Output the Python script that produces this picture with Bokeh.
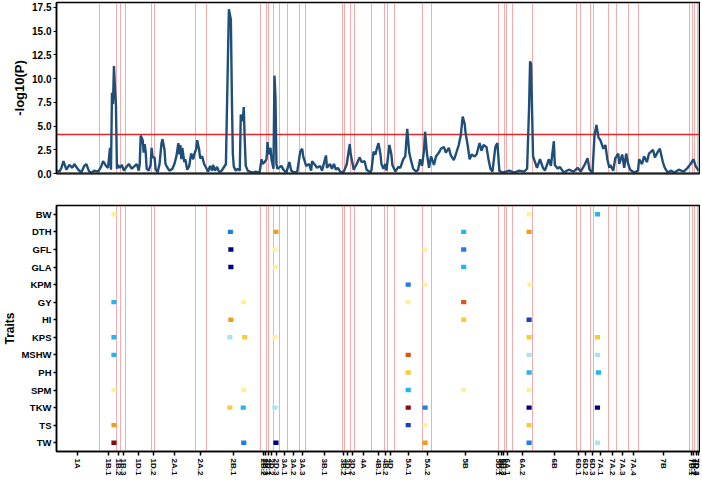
from bokeh.plotting import figure
from bokeh.layouts import column
from bokeh.models import (Range1d, FactorRange, FixedTicker, NumeralTickFormatter,
                          LinearColorMapper, ColumnDataSource)
from bokeh.transform import transform
from bokeh.embed import file_html
from bokeh.resources import INLINE

# ---------------- data ----------------
traits = ["BW", "DTH", "GFL", "GLA", "KPM", "GY", "HI", "KPS", "MSHW", "PH",
          "SPM", "TKW", "TS", "TW"]

seg_labels = ["1A", "1B.1", "1B.2", "1B.3", "1D.1", "1D.2", "2A.1", "2A.2", "2B.1",
              "2B.2", "2B.3", "2D.1", "2D.2", "2D.3", "3A.1", "3A.2", "3A.3", "3B.1",
              "3B.2", "3D.1", "3D.2", "4A", "4B.1", "4B.2", "4D", "5A.1", "5A.2", "5B",
              "5D.1", "5D.2", "5D.3", "6A.1", "6A.2", "6B", "6D.1", "6D.2", "6D.3",
              "7A.1", "7A.2", "7A.3", "7A.4", "7B", "7D.1", "7D.2", "7D.3", "7D.4"]
seg_centers = [21.5, 52, 63, 67.5, 83, 97.5, 119.5, 145.5, 178.5,
               209, 211, 213.5, 217, 222, 230, 239, 248, 270,
               290, 294, 298.5, 310, 324.5, 332.5, 337.5, 355, 374, 412.5,
               446.5, 449, 451.5, 455.5, 470, 502.5, 527, 534, 540.5,
               549.5, 561, 571, 582, 613, 640.5, 643, 645.5, 648]

boundaries = [43, 61, 65, 70, 96, 99, 140, 151, 206, 212, 213.5, 219, 225, 233, 245,
              251, 289, 291, 297, 301, 318, 331, 334, 341, 369, 379, 446, 452, 454,
              460, 480, 525, 529, 539, 542, 557, 565, 577, 587, 639, 642, 644, 647]

pos = [0, 3, 5, 7, 10, 13, 16, 18, 22, 25, 28, 30, 33, 36, 38, 42, 45, 47, 50, 52,
       54, 55, 56, 57, 58, 59, 60, 61, 62, 64, 66, 68, 70, 73, 76, 79, 81, 83, 84, 85,
       87, 88, 89, 90, 91, 93, 95, 96, 97, 99, 100, 102, 104, 106, 107, 109, 110, 112, 114, 117,
       119, 121, 123, 124, 125, 126, 127, 129, 130, 132, 134, 135, 136, 138, 139, 141, 142, 144, 145, 147,
       149, 151, 153, 155, 157, 158, 160, 162, 164, 166, 168, 171, 173, 174, 176, 177, 178, 179, 181, 183,
       185, 186, 188, 189, 190, 191, 193, 195, 198, 201, 205, 207, 208, 210, 212, 213, 214, 216, 217, 219,
       220, 221, 222, 223, 227, 229, 232, 235, 237, 240, 243, 246, 248, 249, 252, 255, 257, 258, 261, 263,
       266, 268, 272, 273, 276, 278, 280, 282, 284, 287, 290, 293, 296, 297, 300, 303, 306, 308, 311, 313,
       317, 318, 320, 322, 323, 325, 327, 328, 330, 332, 333, 336, 338, 339, 342, 345, 347, 350, 352, 354,
       356, 358, 360, 363, 365, 367, 369, 371, 372, 374, 376, 378, 381, 383, 386, 388, 391, 393, 396, 398,
       401, 403, 406, 408, 410, 412, 413, 415, 417, 419, 422, 424, 427, 429, 431, 434, 436, 438, 440, 443,
       445, 447, 450, 457, 462, 467, 472, 475, 477, 478, 479, 481, 483, 485, 488, 491, 493, 497, 499, 502,
       503, 506, 508, 512, 517, 522, 526, 529, 533, 536, 538, 541, 543, 545, 547, 549, 552, 554, 556, 558,
       559, 562, 564, 567, 568, 571, 573, 575, 577, 579, 583, 587, 588, 591, 593, 596, 598, 602, 604, 607,
       609, 612, 614, 617, 620, 624, 628, 633, 637, 640, 643, 645, 648]
logp = [0.3, 0.2, 0.6, 1.3, 0.4, 0.9, 0.6, 1.0, 0.4, 0.1, 0.8, 1.0, 0.2, 0.1, 0.3, 0.2, 0.7, 1.3, 0.8, 0.6,
        2.7, 0.4, 8.5, 7.3, 11.3, 9.0, 7.2, 0.5, 0.9, 0.6, 0.9, 0.3, 0.6, 1.0, 0.5, 0.8, 1.0, 0.3, 1.0, 4.0,
        3.5, 2.2, 3.1, 2.3, 0.5, 0.3, 0.9, 2.7, 1.7, 1.7, 0.5, 0.1, 1.0, 3.2, 3.6, 2.5, 1.0, 0.6, 0.3, 0.5,
        1.0, 1.8, 3.2, 2.0, 3.0, 1.5, 2.7, 1.2, 1.5, 0.4, 0.8, 1.5, 2.1, 1.5, 2.0, 2.6, 3.5, 2.5, 1.6, 1.8,
        1.0, 0.6, 0.2, 0.8, 0.3, 0.9, 0.3, 0.7, 0.2, 0.2, 0.5, 1.0, 12.0, 17.3, 16.2, 8.0, 2.0, 0.7, 0.3, 0.5,
        0.3, 6.2, 5.5, 7.0, 3.5, 0.8, 0.3, 0.2, 0.1, 0.2, 0.1, 1.5, 1.0, 1.2, 1.5, 3.3, 2.0, 2.7, 1.5, 0.5,
        10.3, 8.0, 1.0, 0.5, 0.8, 0.4, 0.1, 1.2, 0.3, 0.1, 0.2, 2.3, 2.6, 1.8, 0.8, 1.0, 0.3, 1.3, 0.9, 0.6,
        0.8, 0.3, 1.9, 0.6, 1.0, 0.5, 1.0, 0.4, 0.6, 0.1, 0.2, 1.0, 3.1, 2.0, 0.4, 1.0, 1.7, 1.2, 1.3, 0.4,
        0.1, 0.4, 2.3, 2.0, 2.5, 3.2, 2.0, 1.0, 0.5, 1.0, 0.3, 3.0, 2.0, 0.9, 0.2, 0.7, 0.6, 1.5, 1.8, 4.7,
        2.2, 1.3, 0.5, 0.2, 0.4, 1.5, 0.8, 2.5, 4.4, 2.0, 0.6, 1.8, 0.9, 1.8, 2.2, 2.6, 2.8, 2.2, 2.7, 1.9,
        1.4, 2.0, 3.0, 4.0, 6.0, 5.2, 4.2, 3.0, 1.5, 2.0, 1.8, 2.0, 3.2, 2.4, 3.0, 2.8, 1.5, 0.5, 0.2, 2.8,
        3.2, 0.3, 0.1, 0.3, 0.1, 0.3, 0.2, 0.5, 7.0, 11.8, 11.5, 1.8, 1.2, 0.6, 1.5, 0.6, 0.3, 1.5, 0.8, 3.4,
        0.9, 0.5, 0.7, 0.1, 0.4, 0.2, 0.6, 0.2, 0.9, 1.6, 0.4, 0.1, 4.0, 5.1, 3.8, 3.5, 2.6, 3.0, 1.5, 0.6,
        0.9, 0.3, 1.6, 2.1, 1.0, 2.0, 0.6, 2.1, 1.0, 0.4, 0.1, 0.3, 1.5, 1.0, 1.8, 1.2, 2.1, 2.5, 1.7, 2.3,
        2.6, 1.2, 0.6, 0.1, 0.3, 0.1, 0.4, 0.2, 0.6, 1.0, 1.5, 0.8, 0.3]
threshold = 4.1

qtl_trait = ["BW", "BW", "BW",
             "DTH", "DTH", "DTH", "DTH",
             "GFL", "GFL", "GFL", "GFL",
             "GLA", "GLA", "GLA",
             "KPM", "KPM", "KPM",
             "GY", "GY", "GY", "GY",
             "HI", "HI", "HI",
             "KPS", "KPS", "KPS", "KPS", "KPS", "KPS",
             "MSHW", "MSHW", "MSHW", "MSHW",
             "PH", "PH", "PH",
             "SPM", "SPM", "SPM", "SPM", "SPM",
             "TKW", "TKW", "TKW", "TKW", "TKW", "TKW", "TKW",
             "TS", "TS", "TS", "TS",
             "TW", "TW", "TW", "TW", "TW", "TW"]
qtl_pos = [58, 477, 546,
           175.5, 221.5, 411, 477,
           176, 220.5, 372, 411,
           176, 221, 411,
           355, 372, 478,
           58, 189, 355, 411,
           176, 411, 477,
           58, 175, 190, 220.5, 477, 546,
           58, 355, 477, 546,
           355, 477, 547,
           58, 189, 355, 411, 477,
           175, 188.5, 220.5, 355, 372, 477, 546,
           58, 355, 372, 477,
           58, 189, 221.5, 372, 477, 546]
qtl_effect = [0.1, 0.1, -0.3,
              -0.5, 0.5, -0.3, 0.5,
              -0.9, 0.1, 0.1, -0.55,
              -0.9, 0.1, -0.3,
              -0.45, 0.1, 0.1,
              -0.3, 0.1, 0.1, 0.7,
              0.5, 0.38, -0.7,
              -0.3, -0.1, 0.3, 0.1, 0.35, 0.35,
              -0.3, 0.7, -0.1, -0.1,
              0.3, -0.38, -0.38,
              0.1, 0.1, -0.3, 0.15, 0.1,
              0.3, -0.3, -0.1, 0.9, -0.5, -0.9, -0.9,
              0.45, -0.7, 0.1, 0.3,
              0.9, -0.45, -0.9, 0.45, -0.6, -0.1]

effect_palette = ["#00007f", "#1a3fc8", "#1e7ee8", "#28b4ee", "#a6e6f2",
                  "#fdf0a0", "#f6cc3c", "#f0a018", "#d8560e", "#8b0a0a"]

# ---------------- styling helpers ----------------
FONT = "Liberation Sans"
RED = "#e84848"

def style_common(p):
    p.grid.visible = False
    p.outline_line_color = "black"
    p.outline_line_width = 1.5
    for ax in (p.xaxis, p.yaxis):
        ax.axis_line_color = "black"
        ax.axis_line_width = 1.5
        ax.minor_tick_line_color = None
        ax.major_tick_in = 0
        ax.major_label_text_font = FONT
        ax.major_label_text_font_style = "bold"
        ax.major_label_text_color = "black"
        ax.axis_label_text_font = FONT
        ax.axis_label_text_font_style = "bold"
        ax.axis_label_text_color = "black"

W = 700
LEFT = 50

# ---------------- top panel ----------------
p1 = figure(width=W, height=200, x_range=Range1d(0, 649), y_range=Range1d(0, 18),
            output_backend="svg", toolbar_location=None,
            min_border_left=LEFT, min_border_right=1, min_border_top=2, min_border_bottom=27)
style_common(p1)
p1.vspan(x=boundaries, line_color=RED, line_alpha=0.45, line_width=1)
p1.hspan(y=[threshold], line_color="#e02828", line_width=1.5)
p1.line(pos, logp, line_color="#1f4e79", line_width=2.4)

p1.xaxis.ticker = FixedTicker(ticks=[])
p1.xaxis.major_tick_out = 0
p1.xaxis.axis_line_width = 2
p1.xaxis.axis_line_color = "#222222"

p1.yaxis.ticker = FixedTicker(ticks=[0, 2.5, 5, 7.5, 10, 12.5, 15, 17.5])
p1.yaxis.formatter = NumeralTickFormatter(format="0.0")
p1.yaxis.major_label_text_font_size = "10px"
p1.yaxis.major_tick_out = 3
p1.yaxis.major_label_standoff = 2
p1.yaxis.axis_label = "-log10(P)"
p1.yaxis.axis_label_text_font_size = "13px"
p1.yaxis.axis_label_standoff = 2

# ---------------- bottom panel ----------------
src = ColumnDataSource(dict(trait=qtl_trait, pos=qtl_pos, effect=qtl_effect))
mapper = LinearColorMapper(palette=effect_palette, low=-1, high=1)

p2 = figure(width=W, height=278, x_range=p1.x_range, y_range=FactorRange(*traits[::-1]),
            output_backend="svg", toolbar_location=None,
            min_border_left=LEFT, min_border_right=1, min_border_top=5, min_border_bottom=25)
style_common(p2)
p2.vspan(x=boundaries, line_color=RED, line_alpha=0.45, line_width=1)
p2.rect(x="pos", y="trait", width=5.2, height=0.25, source=src,
        fill_color=transform("effect", mapper), line_color=None)

p2.xaxis.ticker = FixedTicker(ticks=seg_centers)
p2.xaxis.major_label_overrides = {c: l for c, l in zip(seg_centers, seg_labels)}
p2.xaxis.major_label_orientation = "vertical"
p2.xaxis.major_label_text_font_size = "8px"
p2.xaxis.major_tick_out = 4
p2.xaxis.major_tick_line_width = 1.5
p2.xaxis.major_label_standoff = 3

p2.yaxis.major_label_text_font_size = "9.5px"
p2.yaxis.major_tick_out = 3
p2.yaxis.major_tick_line_width = 1.5
p2.yaxis.major_label_standoff = 2
p2.yaxis.axis_label = "Traits"
p2.yaxis.axis_label_text_font_size = "12px"
p2.yaxis.axis_label_standoff = 1

layout = column(p1, p2, spacing=0)
open("out.html", "w").write(file_html(layout, INLINE))
